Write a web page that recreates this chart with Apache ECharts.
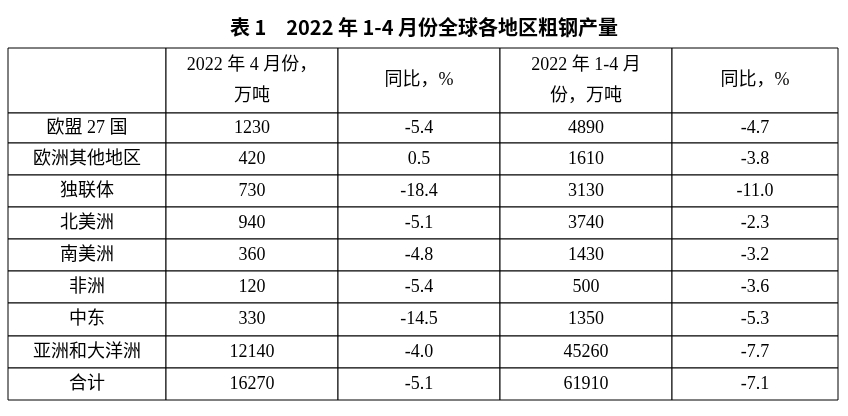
<!DOCTYPE html>
<html><head><meta charset="utf-8">
<script src="https://cdn.jsdelivr.net/npm/echarts@6/dist/echarts.min.js"></script>
<style>html,body{margin:0;background:#fff}#c{width:848px;height:416px}</style>
</head><body><div id="c"></div>
<script>
var title = '表 1　2022 年 1-4 月份全球各地区粗钢产量';
var headers = ['', '2022 年 4 月份，\n万吨', '同比，%', '2022 年 1-4 月\n份，万吨', '同比，%'];
var regions = ['欧盟 27 国', '欧洲其他地区', '独联体', '北美洲', '南美洲', '非洲', '中东', '亚洲和大洋洲', '合计'];
var aprOutput = ['1230', '420', '730', '940', '360', '120', '330', '12140', '16270'];
var aprYoy = ['-5.4', '0.5', '-18.4', '-5.1', '-4.8', '-5.4', '-14.5', '-4.0', '-5.1'];
var ytdOutput = ['4890', '1610', '3130', '3740', '1430', '500', '1350', '45260', '61910'];
var ytdYoy = ['-4.7', '-3.8', '-11.0', '-2.3', '-3.2', '-3.6', '-5.3', '-7.7', '-7.1'];

// layout in chart space
var colEdges = [8, 166, 338, 500, 672, 838];
var rowEdges = [48, 113, 143, 175, 207, 239, 271, 303, 336, 368, 400];

var columns = [regions, aprOutput, aprYoy, ytdOutput, ytdYoy];
var cells = [];
headers.forEach(function (h, c) {
  cells.push([colEdges[c], colEdges[c + 1], rowEdges[0], rowEdges[1], h]);
});
regions.forEach(function (r, i) {
  columns.forEach(function (col, c) {
    cells.push([colEdges[c], colEdges[c + 1], rowEdges[i + 1], rowEdges[i + 2], col[i]]);
  });
});

var chart = echarts.init(document.getElementById('c'));
chart.setOption({
  animation: false,
  title: {
    text: title, left: 'center', top: 12,
    textStyle: {fontSize: 20, fontWeight: 'bold', color: '#000', fontFamily: 'Noto Sans CJK SC'}
  },
  grid: {left: 0, right: 0, top: 0, bottom: 0},
  xAxis: {type: 'value', min: 0, max: 848, show: false},
  yAxis: {type: 'value', min: 0, max: 416, inverse: true, show: false},
  series: [{
    type: 'custom',
    data: cells,
    renderItem: function (params, api) {
      var p0 = api.coord([api.value(0), api.value(2)]);
      var p1 = api.coord([api.value(1), api.value(3)]);
      var txt = cells[params.dataIndex][4];
      return {
        type: 'group',
        children: [{
          type: 'rect',
          shape: {x: p0[0], y: p0[1], width: p1[0] - p0[0], height: p1[1] - p0[1]},
          style: {fill: '#fff', stroke: '#000', lineWidth: 1}
        }, {
          type: 'text',
          style: {
            text: txt, x: (p0[0] + p1[0]) / 2, y: (p0[1] + p1[1]) / 2,
            align: 'center', verticalAlign: 'middle', fill: '#000',
            font: '18px "Liberation Serif", "Noto Sans CJK SC"', lineHeight: 31
          }
        }]
      };
    }
  }]
});
</script></body></html>
